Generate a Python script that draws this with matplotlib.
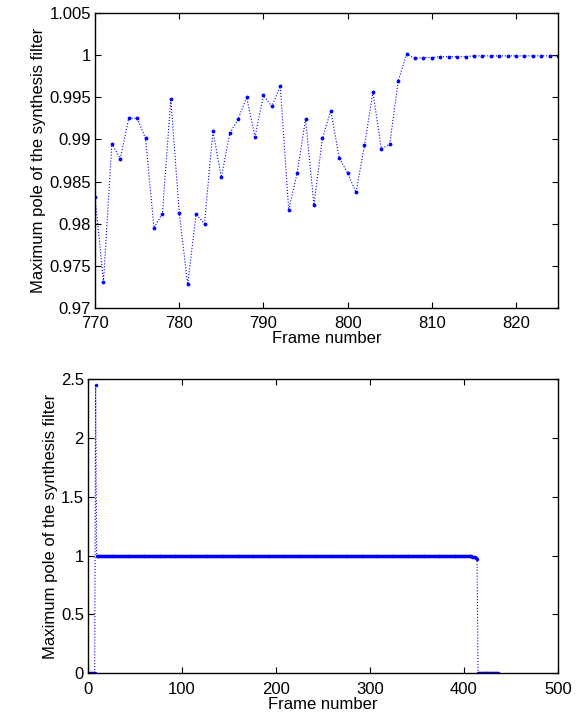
import matplotlib
matplotlib.use('Agg')
import matplotlib.pyplot as plt
from matplotlib.ticker import FormatStrFormatter, MultipleLocator

plt.rcParams['font.family'] = ['Liberation Sans', 'DejaVu Sans']
plt.rcParams['font.size'] = 12

# top panel: zoom on frames 770-826
top_frames = list(range(770, 827))
top_poles = [
    0.9832, 0.9731, 0.9895, 0.9877, 0.9925, 0.9925, 0.9901, 0.9795, 0.9812, 0.9948,
    0.9813, 0.9728, 0.9811, 0.9800, 0.9910, 0.9855, 0.9907, 0.9924, 0.9950, 0.9903,
    0.9952, 0.9939, 0.9963, 0.9816, 0.9860, 0.9924, 0.9822, 0.9901, 0.9934, 0.9878,
    0.9860, 0.9837, 0.9893, 0.9956, 0.9889, 0.9894, 0.9969, 1.0001, 0.9996, 0.9997,
    0.9997, 0.9998, 0.9998, 0.9998, 0.9998, 0.9999, 0.9999, 0.9999, 0.9999, 0.9999,
    0.9999, 0.9999, 0.9999, 0.9999, 0.9999, 0.9999, 0.9999,
]

# bottom panel: whole signal (flat run around 1 read as a constant)
lead_zeros = [0.0] * 7
spike = [2.45]
flat_run = [0.999] * 391
tail = [0.999, 0.998, 0.998, 0.997, 0.996, 0.995, 0.994, 0.993, 0.992, 0.990,
        0.989, 0.987, 0.985, 0.980, 0.970]
trail_zeros = [0.0] * 22
all_poles = lead_zeros + spike + flat_run + tail + trail_zeros
all_frames = list(range(1, len(all_poles) + 1))

fig = plt.figure(figsize=(5.76, 7.13), dpi=100)
ax1 = fig.add_axes([0.165, 0.568, 0.804, 0.414])
ax2 = fig.add_axes([0.153, 0.0557, 0.8155, 0.4128])

ax1.plot(top_frames, top_poles, ':', color='blue', lw=0.8,
         marker='.', markersize=3.5)
ax1.set_xlim(770, 825)
ax1.set_ylim(0.97, 1.005)
ax1.yaxis.set_major_locator(MultipleLocator(0.005))
ax1.xaxis.set_major_locator(MultipleLocator(10))
ax1.yaxis.set_major_formatter(FormatStrFormatter('%g'))

ax2.plot(all_frames, all_poles, ':', color='blue', lw=0.8,
         marker='.', markersize=3)
ax2.set_xlim(0, 500)
ax2.set_ylim(0, 2.5)
ax2.yaxis.set_major_locator(MultipleLocator(0.5))
ax2.xaxis.set_major_locator(MultipleLocator(100))
ax2.yaxis.set_major_formatter(FormatStrFormatter('%g'))

for ax in (ax1, ax2):
    ax.set_xlabel('Frame number', labelpad=0)
    ax.set_ylabel('Maximum pole of the synthesis filter', labelpad=2)
    ax.tick_params(direction='in', top=True, right=True, length=4, width=0.8, pad=3)
    ax.tick_params(axis='x', pad=6)
    for s in ax.spines.values():
        s.set_linewidth(1.0)

fig.savefig('out.png', dpi=100)
